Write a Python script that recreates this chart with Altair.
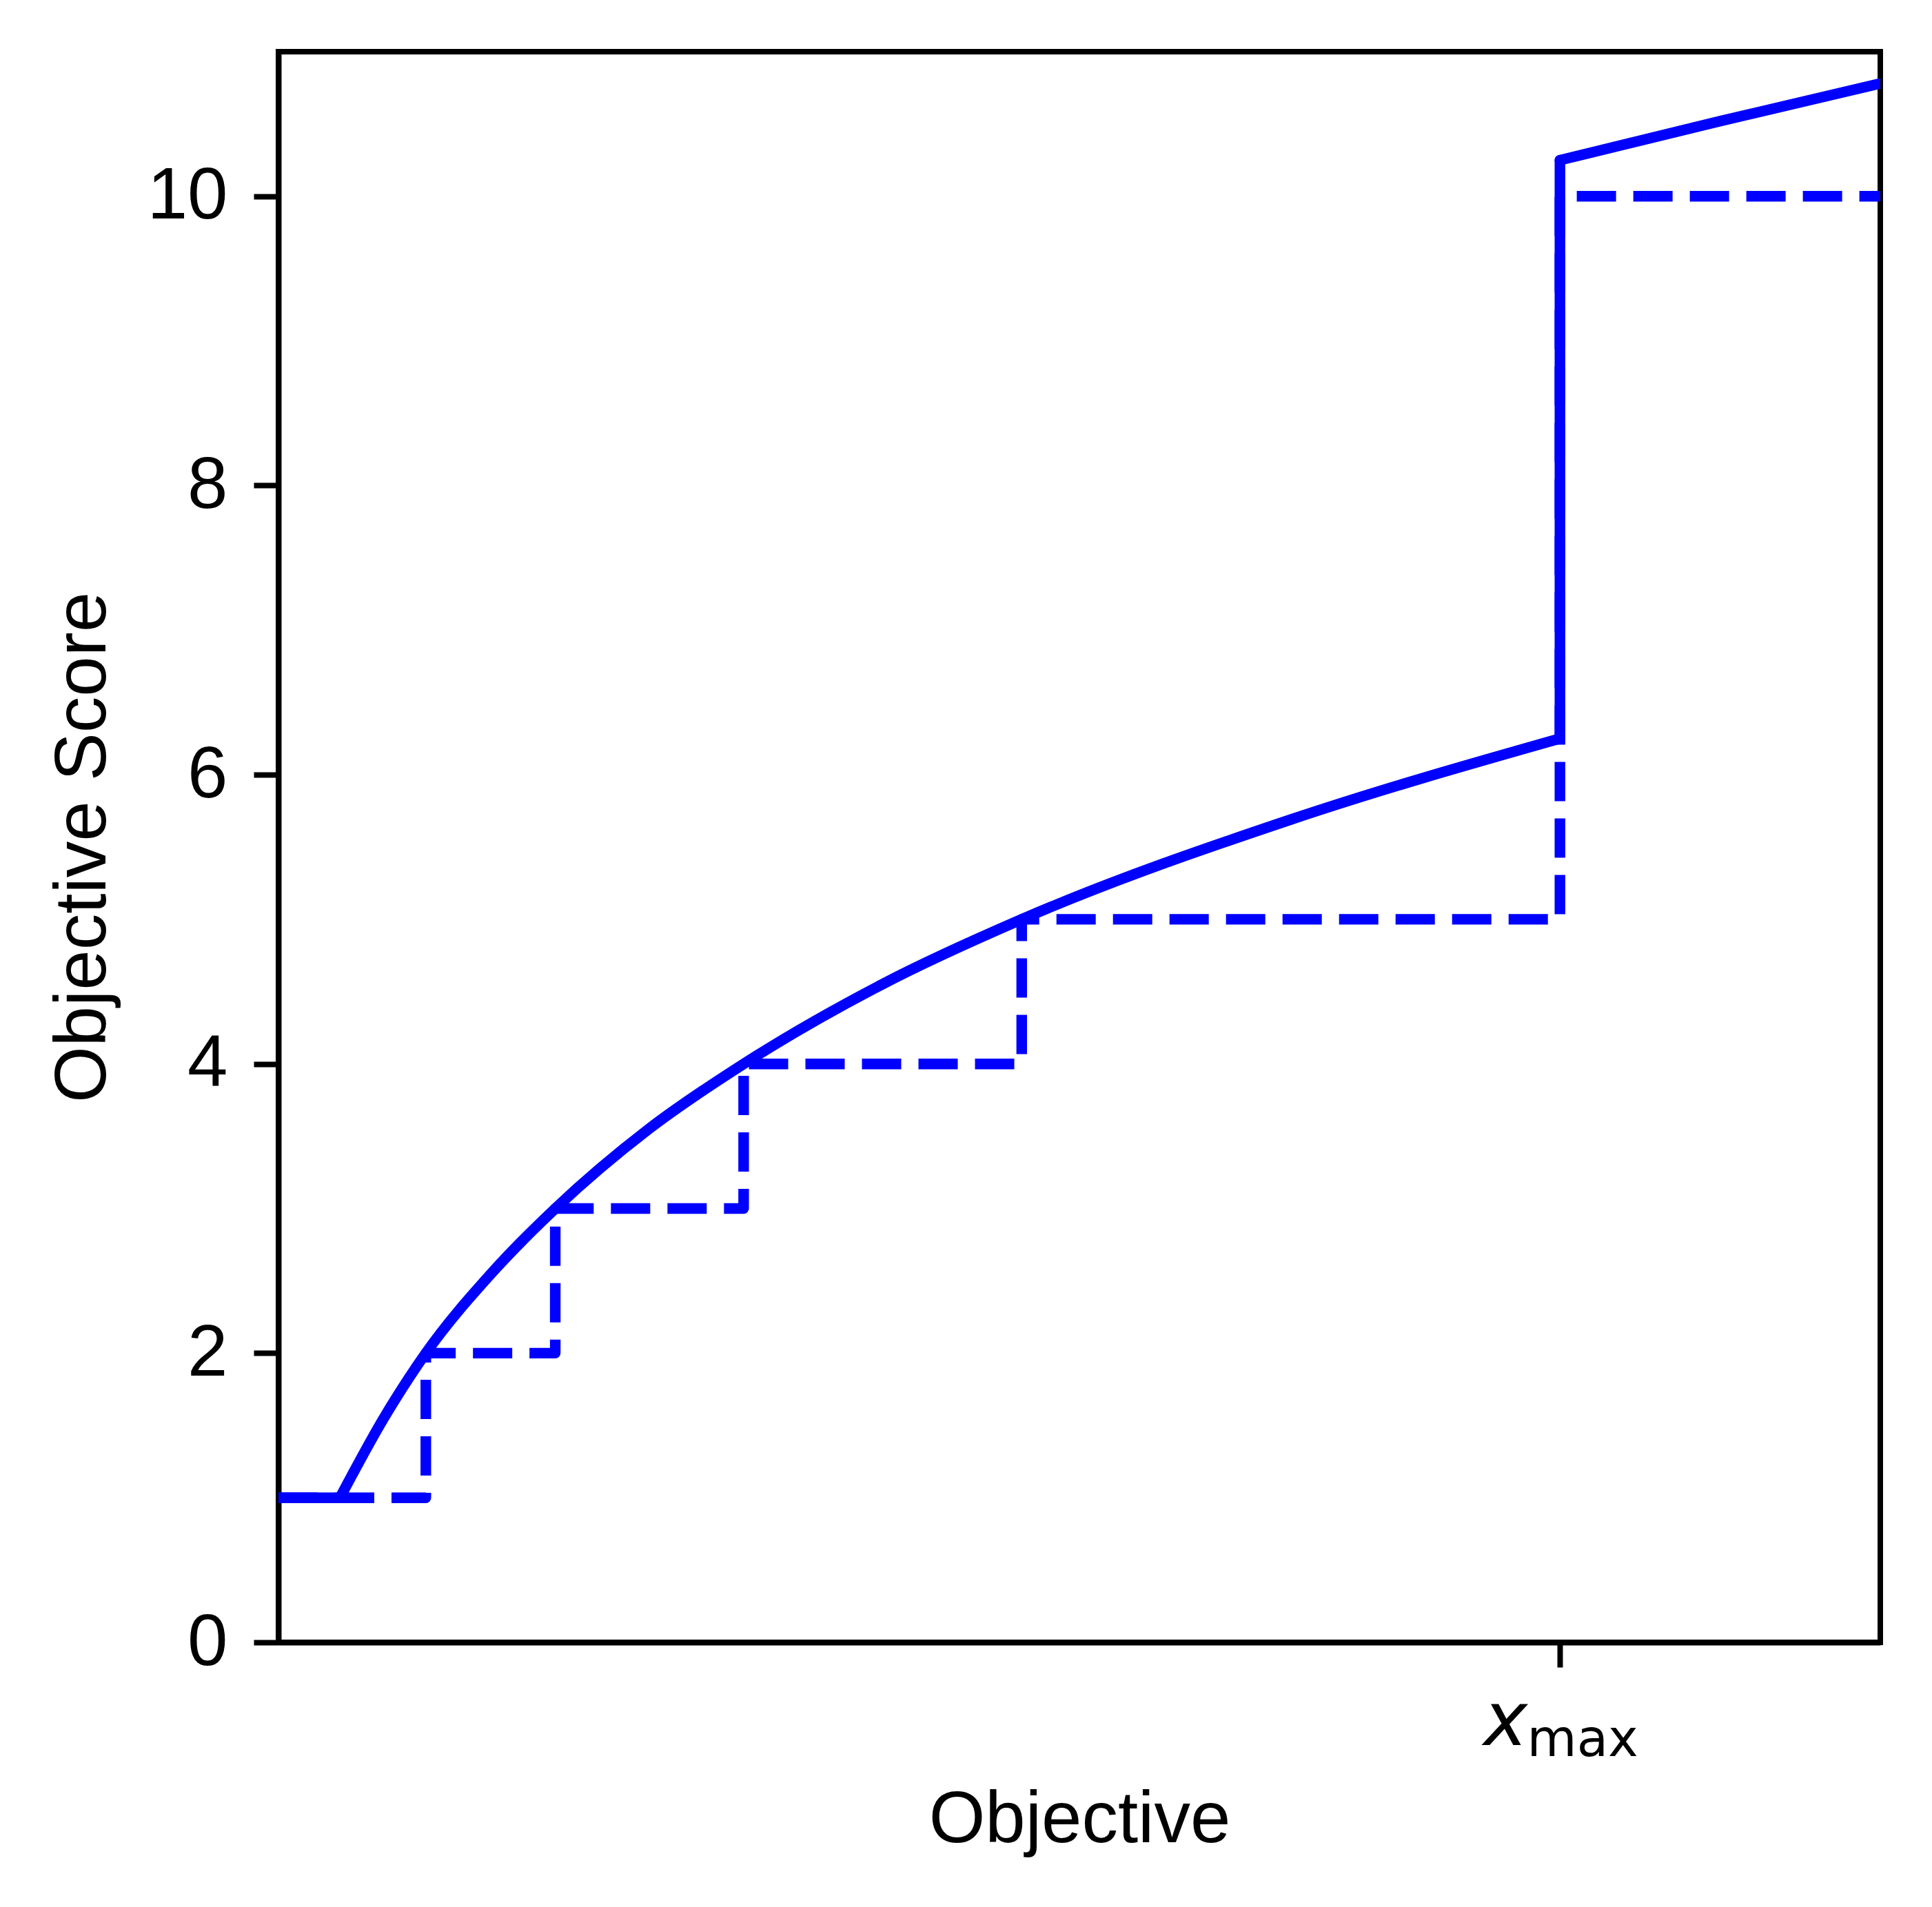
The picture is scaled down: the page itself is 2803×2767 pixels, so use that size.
import altair as alt
import pandas as pd

# ---- data ----
x_domain = [0.0, 12.5]
y_domain = [0.0, 11.0]
y_ticks = [0, 2, 4, 6, 8, 10]
xmax = 10.0

# solid line pieces
start_x = [0.0, 0.48]
start_y = [1.0, 1.0]
curve_x = [0.48, 0.815, 1.15, 1.66, 2.16, 2.89, 3.63, 4.71, 5.80, 7.90, 10.0]
curve_y = [1.0, 1.54, 2.0, 2.55, 3.0, 3.55, 4.0, 4.55, 5.0, 5.69, 6.25]
jump_x = [10.0, 10.0]
jump_y = [6.25, 10.25]
upper_x = [10.0, 11.25, 12.5]
upper_y = [10.25, 10.52, 10.78]

# dashed step line
step_x = [0.0, 1.15, 1.15, 2.16, 2.16, 3.63, 3.63, 5.80, 5.80, 10.0, 10.0, 12.5]
step_y = [1, 1, 2, 2, 3, 3, 4, 4, 5, 5, 10, 10]

# ---- tables ----
rows = []
for seg, xs, ys in [("a", start_x, start_y), ("b", curve_x, curve_y),
                    ("c", jump_x, jump_y), ("d", upper_x, upper_y)]:
    for i, (xv, yv) in enumerate(zip(xs, ys)):
        rows.append({"seg": seg, "idx": i, "x": xv, "y": yv})
solid_df = pd.DataFrame(rows)
step_df = pd.DataFrame({"idx": list(range(len(step_x))), "x": step_x, "y": step_y})
lab_df = pd.DataFrame({"x": [xmax]})

BLUE = "#0000ff"
FONT = "Liberation Sans"

x_axis = alt.Axis(values=[xmax], labels=False, grid=False,
                  title="Objective", titleFont=FONT, titleFontSize=105,
                  titleFontWeight="normal", titleX=1162, titleY=289,
                  titleBaseline="alphabetic", titleAlign="center")
y_axis = alt.Axis(values=y_ticks, grid=False, labelFont=FONT, labelFontSize=105,
                  labelPadding=38, format="d",
                  title="Objective Score", titleFont=FONT, titleFontSize=105,
                  titleFontWeight="normal", titleX=-252, titleY=1154,
                  titleAngle=270, titleBaseline="alphabetic", titleAlign="center")

x_enc = alt.X("x:Q", scale=alt.Scale(domain=x_domain, nice=False, zero=False), axis=x_axis)
y_enc = alt.Y("y:Q", scale=alt.Scale(domain=y_domain, nice=False), axis=y_axis)

solid = alt.Chart(solid_df).mark_line(
    color=BLUE, strokeWidth=15.4, interpolate="monotone",
    strokeCap="round", strokeJoin="round", clip=True
).encode(x=x_enc, y=y_enc, detail="seg:N", order="idx:Q")

dashed = alt.Chart(step_df).mark_line(
    color=BLUE, strokeWidth=15.4, strokeDash=[57, 25],
    strokeCap="butt", strokeJoin="round", clip=True
).encode(x=x_enc, y=y_enc, order="idx:Q")

lab_x = alt.Chart(lab_df).mark_text(
    text="x", font="DejaVu Sans", fontStyle="italic", fontSize=108,
    align="center", baseline="alphabetic", dx=-79, color="black"
).encode(x=x_enc, y=alt.value(2457))

lab_sub = alt.Chart(lab_df).mark_text(
    text="max", font="DejaVu Sans", fontSize=74,
    align="center", baseline="alphabetic", dx=33, color="black"
).encode(x=x_enc, y=alt.value(2473))

chart = alt.layer(dashed, solid, lab_x, lab_sub).properties(
    width=2324, height=2308,
    autosize=alt.AutoSizeParams(type="none"),
    padding={"left": 396, "top": 67, "right": 60, "bottom": 370},
    background="white",
).configure_view(
    stroke="black", strokeWidth=8
).configure_axis(
    domainColor="black", domainWidth=8, tickColor="black", tickWidth=8,
    tickSize=36, labelColor="black", titleColor="black", grid=False
)

chart.save("out.html", embed_options={"renderer": "svg", "actions": False})
